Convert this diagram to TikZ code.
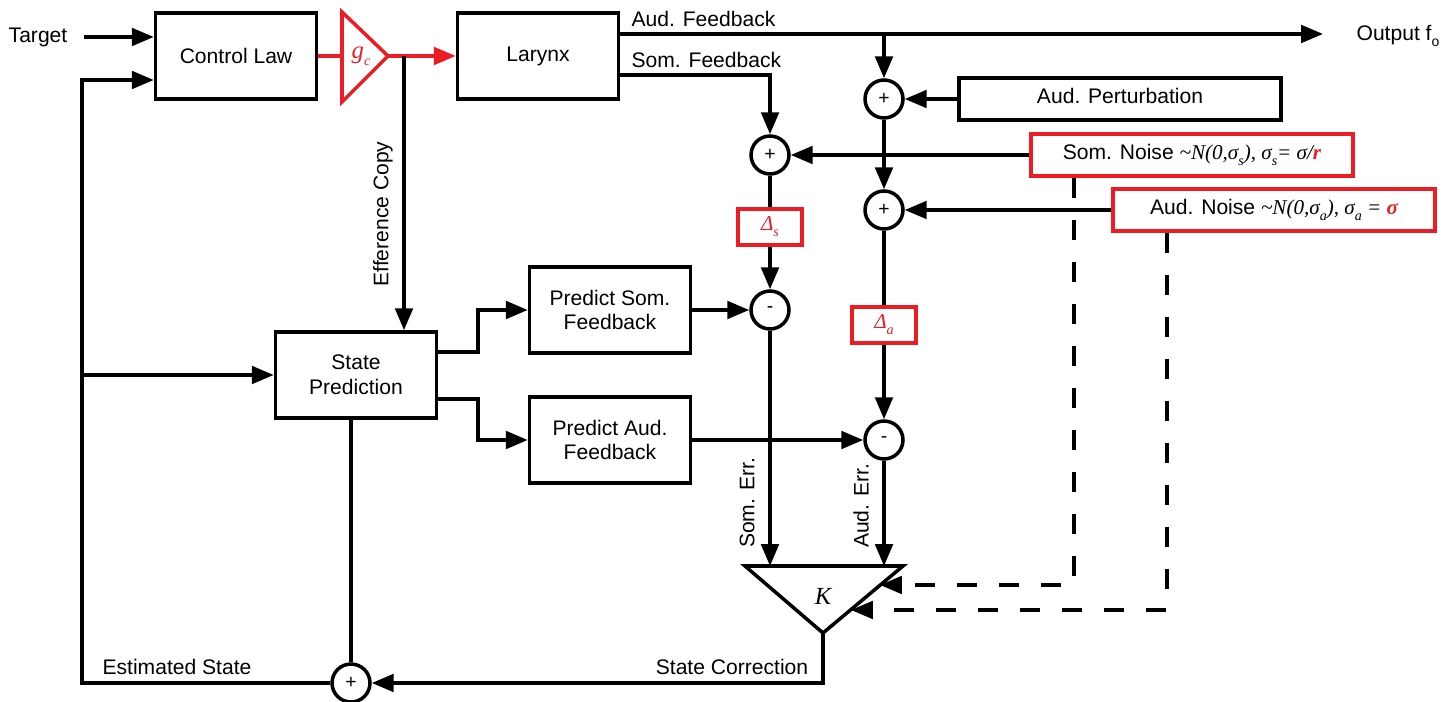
\documentclass[tikz,border=0pt]{standalone}
\usepackage{fontspec}
\setmainfont{Liberation Sans}
\newfontfamily\seriffam{Liberation Serif}
\usetikzlibrary{arrows.meta}
\definecolor{gainred}{RGB}{237,28,36}
\newcommand{\lowsub}[1]{\raisebox{-0.6ex}{\fontsize{8}{9}\selectfont #1}}

\begin{document}
\begin{tikzpicture}[x=0.02cm, y=-0.02cm,
            line width=2pt,
            font=\fontsize{12}{14}\selectfont,
            >={Triangle[length=12.5pt,width=10pt]},
            block/.style = {draw, minimum width=3.22cm,
              minimum height=1.72cm, align=center},
            sumc/.style = {circle, draw, minimum size=0.76cm, inner sep=0pt,
              font=\fontsize{11}{12}\selectfont},
            widebox/.style = {draw, minimum width=6.44cm, minimum height=0.84cm},
            noisebox/.style = {widebox, draw=gainred},
            deltabox/.style = {draw=gainred, minimum width=1.28cm,
              minimum height=0.72cm, text=gainred},
            noiseline/.style = {dash pattern=on 0.4cm off 0.44cm}]
           \useasboundingbox (0,0) rectangle (1453,702);
           \node[block] (ctrl) at (236,56) {Control Law};
           \node[block] (larynx) at (538,56) {Larynx};
           \node[block] (statepred) at (356,375) {State\\Prediction};
           \node[block] (predsom) at (610,310) {Predict Som.\\Feedback};
           \node[block] (predaud) at (610,440) {Predict Aud.\\Feedback};
           \node[widebox] (pert) at (1120,99) {};
           \node (pertlabel) at (1120,96) {Aud. Perturbation};
           \node[noisebox] (somnoise) at (1192,155)
             {Som. Noise {\seriffam\itshape \textasciitilde N(0,σ\lowsub{s}), σ\lowsub{s}= σ/\textcolor{gainred}{\bfseries r}}};
           \node[noisebox] (audnoise) at (1274,210)
             {Aud. Noise {\seriffam\itshape \textasciitilde N(0,σ\lowsub{a}), σ\lowsub{a} = \textcolor{gainred}{\bfseries σ}}};
           \node[sumc] (audadd) at (884,99) {+};
           \node[sumc] (somadd) at (770,155) {+};
           \node[sumc] (noiseadd) at (884,210) {+};
           \node[deltabox] (dels) at (770,227) {\seriffam\itshape Δ\lowsub{s}};
           \node[deltabox] (dela) at (884,325) {\seriffam\itshape Δ\lowsub{a}};
           \node[sumc] (somdiff) at (770,310) {-};
           \node[sumc] (auddiff) at (884,440) {-};
           \node[sumc] (stateadd) at (351,683) {+};
           % gain and Kalman gain
           \coordinate (gin) at (342,56);
           \coordinate (gout) at (388,56);
           \draw[gainred] (342,12) -- (gout) -- (342,102) -- cycle;
           \node[text=gainred, font=\fontsize{14}{16}\selectfont\seriffam\itshape] (gain) at (361,56) {g\lowsub{c}};
           \coordinate (ktop) at (823,566);
           \coordinate (kapex) at (823,633);
           \draw (745,566) -- (903,566) -- (kapex) -- cycle;
           \node[font=\fontsize{14}{16}\selectfont\seriffam\itshape] (kgain) at (823,596) {K};
           % text labels
           \node (target) at (38,37) {Target};
           \coordinate (outend) at (1323,34);
           \node (output) at (1398,36) {Output f\lowsub{o}};
           \node[anchor=south west] (audfblabel) at (624,34) {Aud. Feedback};
           \node[anchor=south west] (somfblabel) at (624,75) {Som. Feedback};
           \node[rotate=90] (efflabel) at (383,214) {Efference Copy};
           \node[rotate=90] (somerr) at (747,503) {Som. Err.};
           \node[rotate=90] (auderr) at (861,506) {Aud. Err.};
           \node (estlabel) at (177,667) {Estimated State};
           \node (corrlabel) at (732,667) {State Correction};
           % connectors
           \draw[->] ([xshift=0.18cm]target.east) -- (ctrl.west |- target);
           \draw[gainred] (ctrl.east) -- (gin);
           \draw[gainred, ->] (gout) -- (larynx.west);
           \draw[->] (404,56) -- (404,56 |- statepred.north);
           \draw[->] (larynx.east |- outend) -- (outend);
           \draw[->] (audadd.north |- outend) -- (audadd.north);
           \draw[->] (larynx.east |- 0,75) -- (somadd.north |- 0,75) -- (somadd.north);
           \draw[->] (pert.west) -- (audadd.east);
           \draw[->] (audadd.south) -- (noiseadd.north);
           \draw[->] (somnoise.west) -- (somadd.east);
           \draw[->] (audnoise.west) -- (noiseadd.east);
           \draw (somadd.south) -- (dels.north);
           \draw[->] (dels.south) -- (somdiff.north);
           \draw (noiseadd.south) -- (dela.north);
           \draw[->] (dela.south) -- (auddiff.north);
           \draw[->] (predsom.east) -- (somdiff.west);
           \draw[->] (predaud.east) -- (auddiff.west);
           \draw[->] ([yshift=0.46cm]statepred.east) -- +(0.8cm,0) |- (predsom.west);
           \draw[->] ([yshift=-0.48cm]statepred.east) -- +(0.8cm,0) |- (predaud.west);
           \draw[->] (somdiff.south) -- (somdiff.south |- ktop);
           \draw[->] (auddiff.south) -- (auddiff.south |- ktop);
           \draw[noiseline, ->] (somnoise.south -| 1074,0) -- (1074,585) -- (880,585);
           \draw[noiseline, ->] (audnoise.south -| 1167,0) -- (1167,610) -- (851,610);
           \draw[->] (kapex) -- (kapex |- stateadd) -- (stateadd.east);
           \draw (stateadd.north |- statepred.south) -- (stateadd.north);
           \draw[->] (stateadd.west) -- (82,683) -- (82,80) -- (ctrl.west |- 0,80);
           \draw[->] (82,375) -- (statepred.west);
        \end{tikzpicture}
\end{document}
